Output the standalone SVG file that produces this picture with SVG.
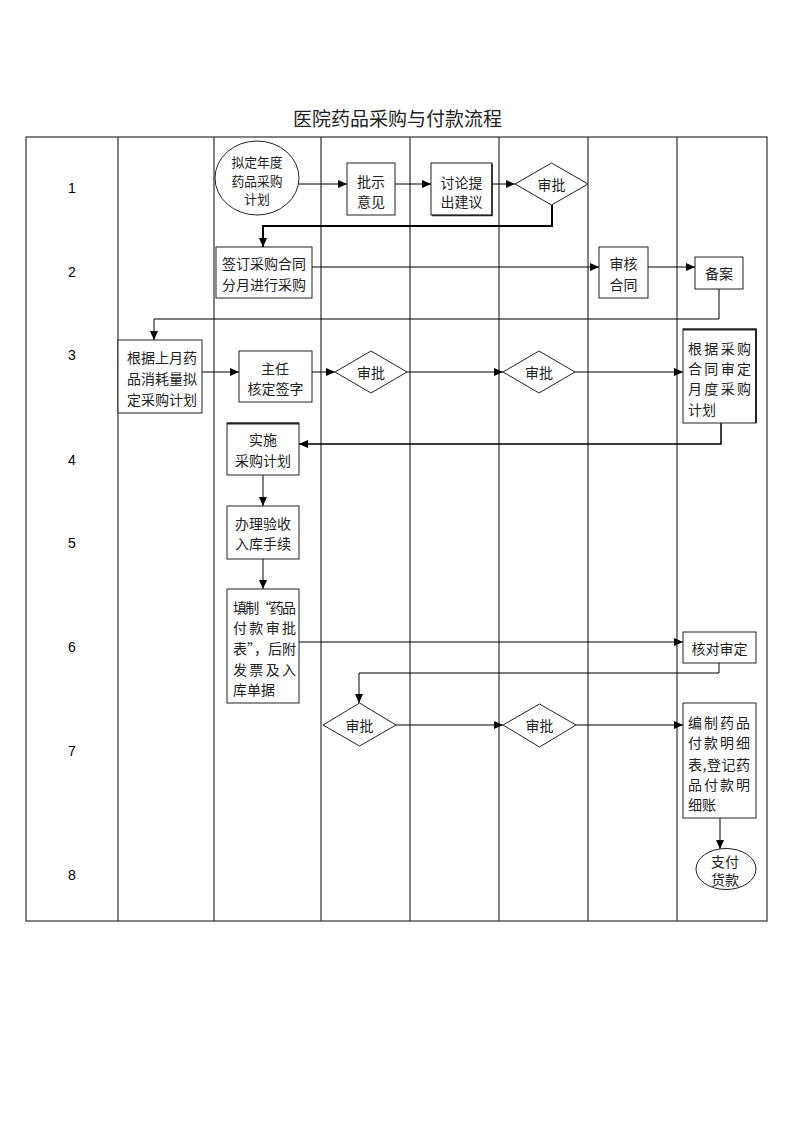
<svg xmlns="http://www.w3.org/2000/svg" width="793" height="1122" viewBox="0 0 793 1122">
<style>
.tbl{fill:none;stroke:#333;stroke-width:1.2}
.box{fill:#fff;stroke:#222;stroke-width:1}
.con{fill:none;stroke:#000;stroke-width:1}
.t{font-family:"Noto Sans CJK SC","Noto Sans",sans-serif;font-size:14px;fill:#222;dominant-baseline:central}
.c{text-anchor:middle}
.s{font-size:12.8px}
.num{font-family:"Liberation Sans",Arial,sans-serif;font-size:14px;fill:#000;text-anchor:middle;dominant-baseline:central}
.title{font-family:"Noto Sans CJK SC",sans-serif;font-size:19px;fill:#222;text-anchor:middle;dominant-baseline:central}
</style>
<defs>
<marker id="ah" markerUnits="userSpaceOnUse" markerWidth="9" markerHeight="8" refX="9" refY="4" orient="auto">
<path d="M0,0 L9,4 L0,8 z" fill="#000"/>
</marker>
</defs>
<rect width="793" height="1122" fill="#fff"/>
<text class="title" x="397.5" y="117">医院药品采购与付款流程</text>
<g id="table">
<rect class="tbl" x="26" y="137" width="741" height="784"/>
<path class="tbl" d="M118,137V921M214,137V921M321,137V921M410,137V921M499,137V921M588,137V921M677,137V921"/>
<text class="num" x="72" y="188">1</text>
<text class="num" x="72" y="272">2</text>
<text class="num" x="72" y="355">3</text>
<text class="num" x="72" y="460">4</text>
<text class="num" x="72" y="543">5</text>
<text class="num" x="72" y="647">6</text>
<text class="num" x="72" y="751">7</text>
<text class="num" x="72" y="875">8</text>
</g>
<g id="connectors">
<path class="con" d="M299,184H347" marker-end="url(#ah)"/>
<path class="con" d="M395,184H431" marker-end="url(#ah)"/>
<path class="con" d="M492,184H515" marker-end="url(#ah)"/>
<path class="con" style="stroke-width:2" d="M552,205V226H263V247" marker-end="url(#ah)"/>
<path class="con" d="M312,267H599" marker-end="url(#ah)"/>
<path class="con" d="M648,267H695" marker-end="url(#ah)"/>
<path class="con" d="M719,289V319H154V340" marker-end="url(#ah)"/>
<path class="con" d="M202,372H239" marker-end="url(#ah)"/>
<path class="con" d="M312,372H335" marker-end="url(#ah)"/>
<path class="con" d="M407,372H503" marker-end="url(#ah)"/>
<path class="con" d="M575,372H683" marker-end="url(#ah)"/>
<path class="con" style="stroke-width:1.5" d="M721,423V444H299" marker-end="url(#ah)"/>
<path class="con" d="M263,475V506" marker-end="url(#ah)"/>
<path class="con" d="M263,559V589" marker-end="url(#ah)"/>
<path class="con" d="M299,642H683" marker-end="url(#ah)"/>
<path class="con" d="M719,663V673H359V703" marker-end="url(#ah)"/>
<path class="con" d="M396,725H503" marker-end="url(#ah)"/>
<path class="con" d="M576,725H683" marker-end="url(#ah)"/>
<path class="con" d="M720,818V849" marker-end="url(#ah)"/>
</g>
<g id="n1">
<ellipse class="box" cx="257" cy="178" rx="42" ry="37"/>
<text class="t c s" x="257" y="161.5">拟定年度</text>
<text class="t c s" x="257" y="180.2">药品采购</text>
<text class="t c s" x="257" y="198.9">计划</text>
</g>
<g id="n2">
<rect class="box" x="347" y="163" width="48" height="52"/>
<text class="t c" x="371" y="181">批示</text>
<text class="t c" x="371" y="201">意见</text>
</g>
<g id="n3">
<rect class="box" x="431" y="163" width="61" height="52"/>
<path d="M492,164V215.5H432" fill="none" stroke="#222" stroke-width="1.6"/>
<text class="t c" x="461.5" y="182">讨论提</text>
<text class="t c" x="461.5" y="201">出建议</text>
</g>
<g id="n4">
<polygon class="box" points="515,184 551.5,163 588,184 551.5,205"/>
<text class="t c" x="551.5" y="184">审批</text>
</g>
<g id="n5">
<rect class="box" x="216" y="247" width="96" height="51"/>
<text class="t c" x="264" y="263">签订采购合同</text>
<text class="t c" x="264" y="284">分月进行采购</text>
</g>
<g id="n6">
<rect class="box" x="599" y="247" width="49" height="51"/>
<text class="t c" x="623.5" y="263">审核</text>
<text class="t c" x="623.5" y="284">合同</text>
</g>
<g id="n7">
<rect class="box" x="695" y="257" width="48" height="32"/>
<text class="t c" x="719" y="273">备案</text>
</g>
<g id="n8">
<rect class="box" x="118" y="340" width="84" height="73"/>
<text class="t" x="127" y="357" textLength="70" lengthAdjust="spacing">根据上月药</text>
<text class="t" x="127" y="378" textLength="70" lengthAdjust="spacing">品消耗量拟</text>
<text class="t" x="127" y="399" textLength="70" lengthAdjust="spacing">定采购计划</text>
</g>
<g id="n9">
<rect class="box" x="239" y="351" width="73" height="51"/>
<text class="t c" x="275" y="368">主任</text>
<text class="t c" x="275.5" y="388">核定签字</text>
</g>
<g id="n10">
<polygon class="box" points="335,372 371,351 407,372 371,393"/>
<text class="t c" x="371" y="372">审批</text>
</g>
<g id="n11">
<polygon class="box" points="503,372 539,351 575,372 539,393"/>
<text class="t c" x="539" y="372">审批</text>
</g>
<g id="n12">
<rect class="box" x="683" y="329" width="73" height="94"/>
<path d="M683,329.5H756V423" fill="none" stroke="#222" stroke-width="2"/>
<text class="t" x="688" y="348" textLength="63" lengthAdjust="spacing">根据采购</text>
<text class="t" x="688" y="368" textLength="63" lengthAdjust="spacing">合同审定</text>
<text class="t" x="688" y="388" textLength="63" lengthAdjust="spacing">月度采购</text>
<text class="t" x="688" y="409">计划</text>
</g>
<g id="n13">
<rect class="box" x="227" y="423" width="72" height="52"/>
<path d="M227,423.5H299" fill="none" stroke="#222" stroke-width="2"/>
<text class="t c" x="263" y="439">实施</text>
<text class="t c" x="263" y="460">采购计划</text>
</g>
<g id="n14">
<rect class="box" x="227" y="506" width="72" height="53"/>
<text class="t c" x="263" y="523">办理验收</text>
<text class="t c" x="263" y="543">入库手续</text>
</g>
<g id="n15">
<rect class="box" x="227" y="589" width="72" height="114"/>
<text class="t" x="233" y="607" textLength="63" lengthAdjust="spacing">填制“药品</text>
<text class="t" x="233" y="627" textLength="63" lengthAdjust="spacing">付款审批</text>
<text class="t" x="233" y="648" textLength="63" lengthAdjust="spacing">表”，后附</text>
<text class="t" x="233" y="669" textLength="63" lengthAdjust="spacing">发票及入</text>
<text class="t" x="233" y="689">库单据</text>
</g>
<g id="n16">
<rect class="box" x="683" y="632" width="73" height="31"/>
<text class="t c" x="719.5" y="648">核对审定</text>
</g>
<g id="n17">
<polygon class="box" points="323,725 359.5,703 396,725 359.5,746"/>
<text class="t c" x="359.5" y="725">审批</text>
</g>
<g id="n18">
<polygon class="box" points="503,725 539.5,704 576,725 539.5,747"/>
<text class="t c" x="539.5" y="725">审批</text>
</g>
<g id="n19">
<rect class="box" x="683" y="703" width="73" height="115"/>
<text class="t" x="688" y="722" textLength="62" lengthAdjust="spacing">编制药品</text>
<text class="t" x="688" y="742" textLength="62" lengthAdjust="spacing">付款明细</text>
<text class="t" x="688" y="764" textLength="62" lengthAdjust="spacing">表,登记药</text>
<text class="t" x="688" y="784" textLength="62" lengthAdjust="spacing">品付款明</text>
<text class="t" x="688" y="804">细账</text>
</g>
<g id="n20">
<ellipse class="box" cx="726" cy="869" rx="30" ry="20.5"/>
<text class="t c" x="725" y="861">支付</text>
<text class="t c" x="725" y="879">货款</text>
</g>
</svg>
